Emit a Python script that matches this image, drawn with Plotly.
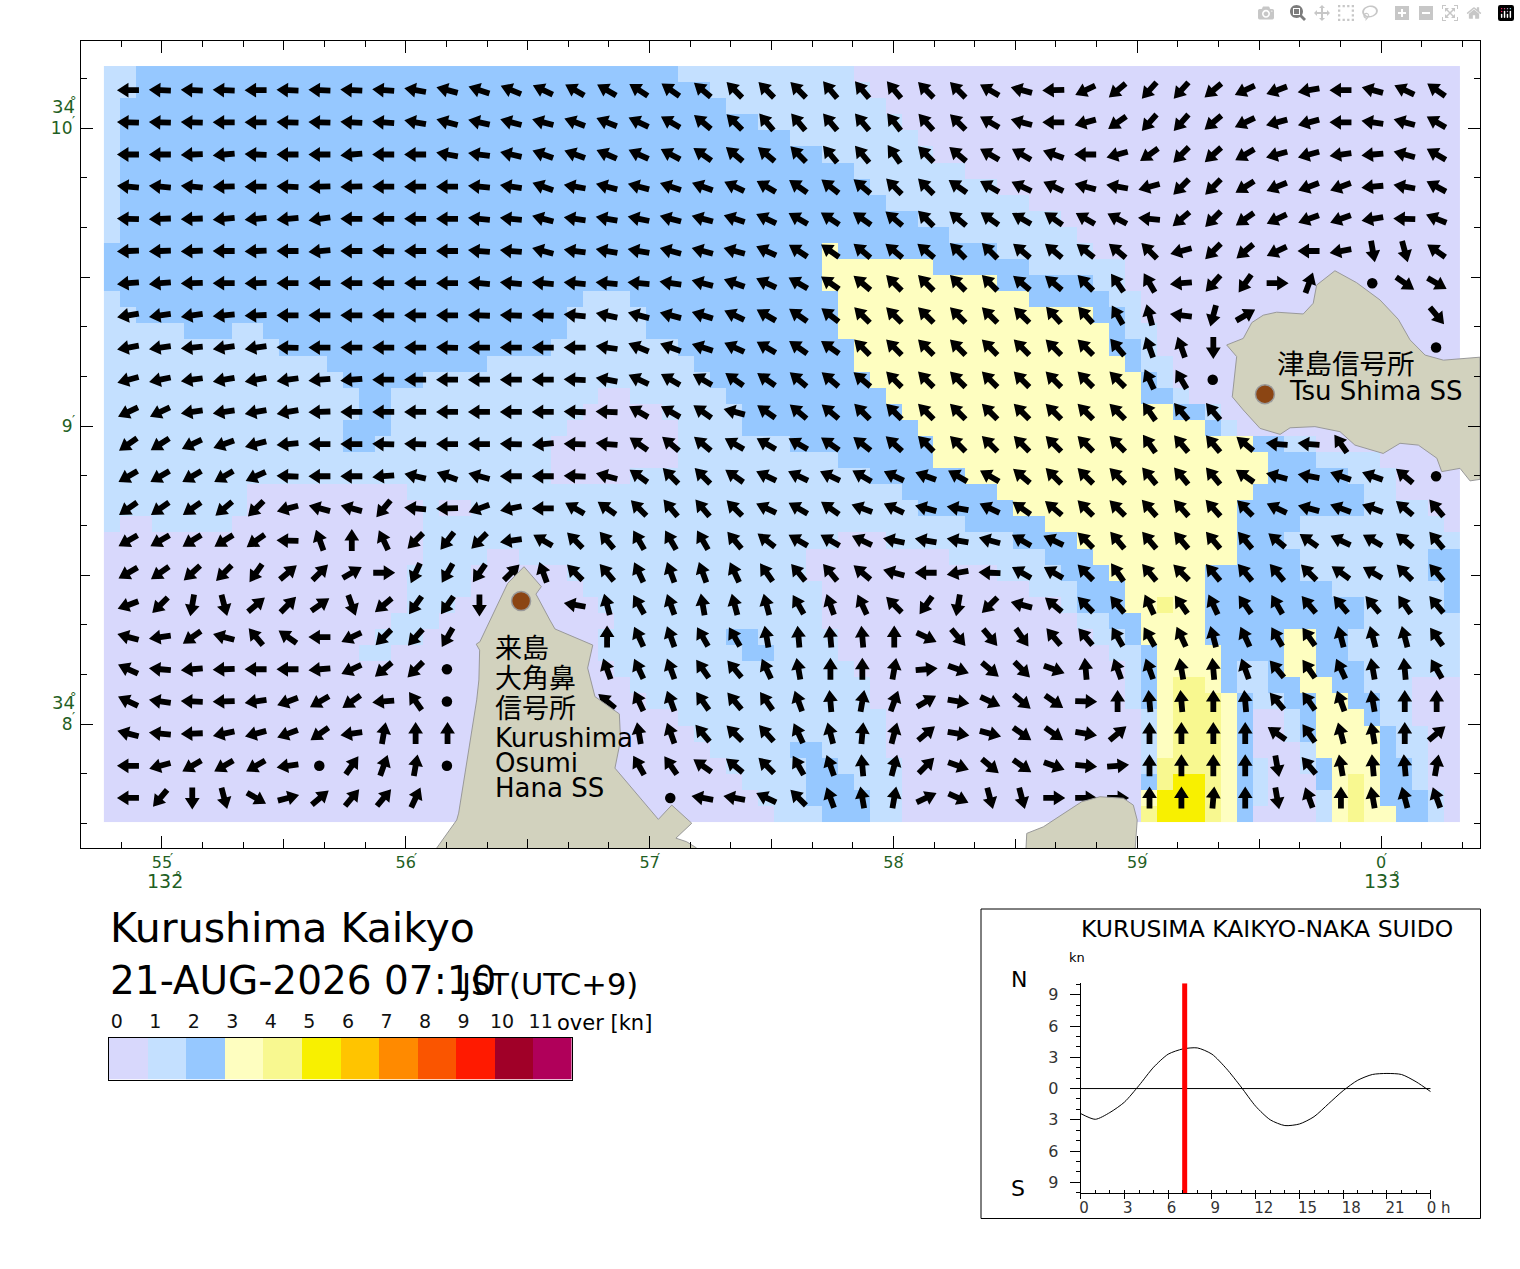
import math
import plotly.graph_objects as go

W, H = 1520, 1269
FONT = "DejaVu Sans, Noto Sans CJK JP"
CJK = "Noto Sans CJK JP"
GREEN = "#1f5f24"

level_colors = ["#d8d8fc", "#c4e0ff", "#96c8ff", "#fefec0", "#f8f890", "#f8f000",
                "#ffc400", "#ff8a00", "#fa5500", "#ff1a00", "#a00028", "#b0005a"]
level_labels = ["0", "1", "2", "3", "4", "5", "6", "7", "8", "9", "10", "11"]

# speed classes, run-length coded as class x count, north to south
speed_rows = [
 "1x2 2x34 1x11 0x38", "1x2 2x36 1x10 0x37", "1x1 2x38 1x10 0x36", "1x1 2x40 1x9 0x35",
 "1x1 2x42 1x8 0x34", "1x1 2x44 1x7 0x33", "1x1 2x46 1x7 0x31", "1x1 2x47 1x8 0x29",
 "1x1 2x48 1x9 0x27", "1x1 2x50 1x9 0x25", "1x1 2x52 1x8 0x24", "2x45 3x1 2x10 1x6 0x23",
 "2x45 3x7 2x6 1x6 0x21", "2x45 3x11 2x6 1x2 0x21", "1x1 2x29 1x3 2x13 3x12 2x5 1x2 0x20",
 "1x2 2x27 1x5 2x12 3x16 2x2 1x1 0x20", "1x5 2x3 1x2 2x19 1x5 2x12 3x17 2x1 1x2 0x19",
 "1x11 2x17 1x8 2x11 3x16 2x2 1x1 0x19", "1x14 2x10 1x13 2x10 3x17 2x1 1x2 0x18",
 "1x15 2x5 1x18 2x10 3x17 2x1 1x1 0x18", "1x16 2x2 1x13 0x2 1x6 2x10 3x16 2x2 1x1 0x17",
 "1x16 2x2 1x12 0x5 1x5 2x10 3x17 2x2 1x1 0x15", "1x15 2x3 1x11 0x7 1x4 2x11 3x18 2x1 1x1 0x14",
 "1x15 2x2 1x11 0x8 1x7 2x9 3x20 2x2 1x2 0x9", "1x28 0x8 1x10 2x6 3x21 2x3 1x4 0x5",
 "1x28 0x5 1x15 2x6 3x19 2x5 1x3 0x4", "1x9 0x10 1x31 2x6 3x16 2x7 1x2 0x4",
 "1x9 0x11 1x1 0x2 1x28 2x6 3x14 2x8 1x4 0x2", "1x1 0x2 1x5 0x12 1x34 2x5 3x12 2x4 1x9 0x1",
 "0x20 1x26 0x3 1x8 2x4 3x10 2x3 1x11", "0x20 1x4 0x2 1x18 0x9 1x6 2x3 3x9 2x4 1x8 2x2",
 "0x19 1x4 0x6 1x15 0x12 1x4 2x3 3x6 2x6 1x8 2x2", "0x19 1x4 0x7 1x15 0x13 1x3 2x3 3x5 2x8 1x7 2x1",
 "0x19 1x3 0x9 1x14 0x15 1x1 2x3 3x2 4x1 3x2 2x10 1x5 2x1", "0x18 1x3 0x11 1x13 0x16 1x2 2x2 3x4 2x10 1x6",
 "0x17 1x3 0x11 1x8 2x2 1x5 0x16 1x2 2x1 3x4 2x5 3x2 2x2 1x7",
 "0x16 1x2 0x13 1x9 2x2 1x4 0x17 1x2 2x1 3x4 2x4 3x2 2x2 1x7",
 "0x32 1x15 0x17 1x1 2x1 3x4 2x1 1x2 2x1 3x2 2x3 1x6",
 "0x33 1x15 0x16 1x1 2x1 3x1 4x2 3x1 2x1 1x2 2x2 3x2 2x2 1x3 0x3",
 "0x34 1x14 0x16 1x1 2x1 3x1 4x3 3x1 2x1 1x2 2x2 3x2 2x2 1x2 0x3",
 "0x36 1x13 0x16 1x1 3x1 4x3 3x1 2x1 0x2 1x1 2x1 3x3 2x1 1x2 0x3",
 "0x37 1x12 0x16 1x1 3x1 4x3 3x1 2x1 0x2 1x1 2x1 3x4 2x1 1x2 0x2",
 "0x38 1x5 2x2 1x4 0x16 1x1 3x1 4x3 3x1 2x1 0x3 1x1 3x4 2x1 1x2 0x2",
 "0x39 1x5 2x2 1x4 0x15 1x1 4x4 3x1 2x1 1x1 0x2 1x1 2x1 3x3 2x2 1x1 0x2",
 "0x40 1x4 2x3 1x3 0x15 2x1 4x1 5x2 4x1 3x1 2x1 1x1 0x3 2x1 3x1 4x1 3x1 2x2 1x1 0x2",
 "0x41 1x3 2x4 1x2 0x15 3x1 5x3 4x1 3x1 2x1 1x1 0x3 1x1 3x1 4x1 3x1 2x3 1x1 0x1",
 "0x42 1x3 2x3 1x2 0x15 4x1 5x3 4x1 3x1 2x1 0x4 1x1 3x1 4x1 3x2 2x2 1x1 0x1",
]

N, D = None, -1  # N: no arrow, D: slack water dot
# current direction of each arrow, degrees clockwise from north, north to south
bearing_rows = [
 [270,272,272,272,270,272,272,273,274,280,285,288,292,295,300,300,303,305,310,315,315,315,320,320,320,315,315,300,285,268,245,230,222,222,230,245,250,260,270,285,295,305],
 [272,272,272,270,270,272,272,273,274,280,285,283,285,285,290,292,295,300,310,315,320,320,320,320,322,318,315,300,285,270,255,235,222,222,230,245,255,255,270,278,285,300],
 [270,270,268,265,272,270,270,265,270,270,280,278,283,290,290,293,295,298,305,310,310,315,320,320,325,315,310,300,300,290,270,255,235,225,228,240,255,255,262,265,285,300],
 [275,275,275,268,270,272,268,268,270,270,270,275,278,290,280,285,285,288,290,295,300,305,308,310,315,315,305,300,295,295,285,280,255,225,225,238,248,250,250,265,280,298],
 [272,268,268,265,265,265,262,270,270,270,270,275,275,285,278,280,282,285,285,288,295,300,303,305,310,315,310,305,300,305,300,298,275,230,225,235,245,250,250,260,272,292],
 [268,268,268,270,268,270,265,270,272,270,270,275,275,285,278,280,280,285,285,285,295,303,305,310,310,310,315,315,310,310,308,310,315,255,225,230,245,270,260,170,165,305],
 [265,265,268,270,268,270,270,270,270,270,270,275,275,275,275,275,275,278,285,290,295,300,305,310,315,315,315,315,310,310,315,325,330,265,222,215,90,20,N,D,125,120],
 [260,262,262,265,268,270,270,270,270,270,270,272,272,272,275,282,285,285,287,295,300,305,308,315,315,315,315,315,315,318,318,330,345,277,195,60,N,N,N,N,N,140],
 [260,262,265,262,262,272,270,270,270,270,272,270,270,270,270,278,292,290,288,295,300,305,305,315,315,315,315,315,315,315,315,320,340,340,180,N,N,N,N,N,N,D],
 [255,258,262,260,260,262,265,265,270,270,270,270,270,270,272,280,295,300,300,305,305,310,310,310,315,315,315,315,315,315,315,315,335,330,D,N,N,N,N,N,N,N],
 [245,245,262,262,260,260,268,270,270,270,270,270,270,270,272,272,300,300,305,285,305,310,310,315,315,315,315,315,315,315,315,315,325,320,320,N,N,N,N,N,N,N],
 [235,237,245,250,255,265,270,270,272,272,270,270,272,265,272,275,305,310,310,300,300,300,305,308,312,315,315,315,315,315,315,315,325,320,320,310,275,275,325,N,N,N],
 [240,240,240,240,245,272,270,270,265,283,290,285,270,270,272,285,305,315,315,305,295,295,295,300,295,290,300,300,310,315,315,315,320,320,320,305,285,280,290,290,310,D],
 [235,235,235,230,225,255,285,285,220,275,268,250,258,270,300,305,315,320,320,315,295,300,305,290,295,285,280,295,305,310,315,315,318,318,318,315,295,285,290,290,310,320],
 [240,240,238,238,235,272,340,0,335,225,218,225,262,300,315,320,330,330,330,320,308,300,300,295,282,280,280,285,300,295,315,320,320,320,320,320,310,305,295,300,310,320],
 [240,235,228,225,215,50,45,60,90,205,210,215,45,340,315,320,335,340,340,335,325,320,320,310,285,270,260,272,300,300,315,325,320,315,320,320,320,315,305,300,315,320],
 [250,225,190,165,50,45,55,160,230,215,215,180,N,N,280,345,330,340,350,345,345,330,340,335,315,215,190,225,285,310,315,320,335,325,335,325,330,320,320,320,325,320],
 [285,262,235,285,320,305,270,245,225,222,210,N,N,N,N,0,335,340,330,330,350,355,355,355,0,115,140,140,145,320,320,330,330,335,345,335,330,325,345,345,345,325],
 [295,275,265,268,270,270,265,245,230,225,D,N,N,N,N,340,335,340,325,320,335,350,0,0,10,85,110,130,135,110,355,340,340,350,355,340,320,325,335,350,355,330],
 [295,278,272,268,262,250,240,235,265,325,D,N,N,N,N,310,335,340,325,320,325,340,355,10,20,60,100,115,130,125,92,0,355,355,0,355,320,325,340,350,0,0],
 [285,275,268,258,255,250,235,262,10,0,0,N,N,N,N,N,350,340,320,315,318,335,345,5,15,50,100,105,125,125,100,50,0,0,0,0,305,325,345,350,0,50],
 [270,255,240,240,240,262,D,35,20,10,D,N,N,N,N,N,330,325,305,310,315,330,340,355,15,45,110,130,125,110,95,85,0,0,0,0,170,320,350,355,355,10],
 [270,220,180,165,120,75,50,40,40,25,N,N,N,N,N,N,N,D,280,280,295,315,340,350,10,65,115,165,165,90,90,90,0,0,5,0,170,340,0,350,345,340],
]

# land outlines: longitude minutes past 132 deg, latitude minutes past 34 deg
kurushima_lon = [56.127,56.209,56.217,56.291,56.300,56.303,56.289,56.304,56.418,56.485,56.556,56.534,56.591,56.612,56.767,56.746,56.776,56.876,56.881,56.858,57.036,57.091,57.173,57.108,57.152,57.193]
kurushima_lat = [7.584,7.678,7.701,8.081,8.148,8.248,8.268,8.276,8.472,8.528,8.461,8.436,8.349,8.319,8.265,8.188,8.092,8.034,7.946,7.852,7.680,7.728,7.667,7.617,7.605,7.584]
south_lon = [58.544,58.547,58.615,58.704,58.772,58.847,58.943,58.984,59.000,58.992]
south_lat = [7.584,7.633,7.655,7.702,7.739,7.756,7.751,7.728,7.678,7.584]
tsushima_lon = [59.367,59.435,59.470,59.517,59.572,59.681,59.722,59.736,59.811,59.900,59.996,60.071,60.119,60.181,60.256,60.406,60.406,60.365,60.324,60.249,60.229,60.153,60.078,60.009,59.893,59.832,59.729,59.627,59.586,59.504,59.435,59.390,59.408,59.367]
tsushima_lat = [9.272,9.294,9.347,9.372,9.382,9.376,9.412,9.473,9.521,9.481,9.423,9.358,9.289,9.238,9.221,9.231,8.821,8.816,8.858,8.847,8.892,8.936,8.942,8.908,8.936,8.981,8.998,8.994,8.972,8.992,9.054,9.098,9.233,9.272]

station_lon = [56.473, 59.524]
station_lat = [8.413, 9.107]

tide_hours = list(range(25))
tide_knots = [-2.4,-2.95,-2.3,-1.3,0.3,2.05,3.3,3.8,3.9,3.3,1.9,0.15,-1.7,-3.0,-3.55,-3.4,-2.7,-1.45,-0.2,0.8,1.35,1.45,1.35,0.65,-0.3]
now_hour = 7.13

# geometry of the grid on the chart
LON0, DLON = 54.762, 0.065435
LAT0, DLAT = 10.208, 0.053979
PX_LON, PX_LAT = 243.8, 298.0
XR = [54.668, 60.406]
YR = [7.584, 10.292]

grid = []
for row in speed_rows:
    cells = []
    for run in row.split():
        v, n = run.split("x")
        cells += [int(v)] * int(n)
    grid.append(cells)
cell_lon = [LON0 + DLON * (i + 0.5) for i in range(85)]
cell_lat = [LAT0 - DLAT * (j + 0.5) for j in range(47)]

steps = []
for i, c in enumerate(level_colors):
    steps += [[i / 12, c], [(i + 1) / 12, c]]

fig = go.Figure()
fig.add_trace(go.Heatmap(x=cell_lon, y=cell_lat, z=grid, colorscale=steps, zmin=-0.5, zmax=11.5,
                         showscale=False, hoverinfo="skip", xaxis="x", yaxis="y"))

SHAPE = [(11.5, 0), (0, 7.4), (0, 2.9), (-10.5, 2.9), (-10.5, -2.9), (0, -2.9), (0, -7.4)]
ax, ay, dx, dy = [], [], [], []
for j, row in enumerate(bearing_rows):
    la = cell_lat[2 * j + 1]
    for i, b in enumerate(row):
        lo = cell_lon[2 * i + 1]
        if b is None:
            continue
        if b == D:
            dx.append(lo)
            dy.append(la)
            continue
        t = math.radians(b)
        ux, uy = math.sin(t), math.cos(t)
        for a, s in SHAPE + SHAPE[:1]:
            ax.append(lo + (a * ux + s * uy + 0.6) / PX_LON)
            ay.append(la + (a * uy - s * ux) / PX_LAT)
        ax.append(None)
        ay.append(None)
fig.add_trace(go.Scatter(x=ax, y=ay, mode="lines", fill="toself", fillcolor="#000000",
                         line=dict(width=0, color="#000000"), hoverinfo="skip", showlegend=False))
fig.add_trace(go.Scatter(x=dx, y=dy, mode="markers", marker=dict(size=10.5, color="#000000"),
                         hoverinfo="skip", showlegend=False))

for lons, lats in [(kurushima_lon, kurushima_lat), (south_lon, south_lat), (tsushima_lon, tsushima_lat)]:
    fig.add_trace(go.Scatter(x=lons, y=lats, mode="lines", fill="toself", fillcolor="#d2d2be",
                             line=dict(width=1, color="#999999"), hoverinfo="skip", showlegend=False))
fig.add_trace(go.Scatter(x=station_lon, y=station_lat, mode="markers",
                         marker=dict(size=19, color="#8b4513", line=dict(width=1.5, color="#999999")),
                         hoverinfo="skip", showlegend=False))

lon_major = [55, 56, 57, 58, 59, 60]
lon_major_text = ["55", "56", "57", "58", "59", "0"]
lat_major = [8, 9, 10]
lat_major_text = ["8", "9", "10"]
lon_half = [54.5 + i for i in range(1, 7)]
lat_half = [7.5 + i for i in range(1, 4)]
lon_minor = [55 + i / 6 for i in range(-1, 33)]
lat_minor = [7 + i / 6 for i in range(4, 20)]

frame = dict(showline=True, linecolor="#000000", linewidth=1.2, mirror="allticks", showgrid=False,
             zeroline=False, ticks="inside", tickcolor="#000000", tickwidth=1)
fig.update_layout(
    width=W, height=H, margin=dict(l=0, r=0, t=0, b=0, autoexpand=False), paper_bgcolor="white", plot_bgcolor="white",
    showlegend=False, font=dict(family=FONT, color="#000000"),
    xaxis=dict(domain=[81 / W, 1480 / W], range=XR, tickmode="array", tickvals=lon_major, ticktext=lon_major_text,
               ticklen=12, tickfont=dict(size=16, color=GREEN), ticklabelstandoff=0,
               minor=dict(tickmode="array", tickvals=lon_minor, ticks="inside", ticklen=6, tickcolor="#000000", tickwidth=1),
               **frame),
    yaxis=dict(domain=[1 - 848 / H, 1 - 41 / H], range=YR, tickmode="array", tickvals=lat_major, ticktext=lat_major_text,
               ticklen=12, tickfont=dict(size=17, color=GREEN), ticklabelstandoff=4,
               minor=dict(tickmode="array", tickvals=lat_minor, ticks="inside", ticklen=6, tickcolor="#000000", tickwidth=1),
               **frame),
    xaxis2=dict(overlaying="x", matches="x", anchor="y2", tickmode="array", tickvals=lon_half, ticklen=9, showticklabels=False,
                **frame),
    yaxis2=dict(overlaying="y", matches="y", anchor="x2", tickmode="array", tickvals=lat_half, ticklen=9, showticklabels=False,
                **frame),
)
fig.add_trace(go.Scatter(x=lon_half[:3], y=lat_half, mode="markers", marker=dict(opacity=0), xaxis="x2", yaxis="y2",
                         hoverinfo="skip", showlegend=False))

# colour key
fig.add_trace(go.Heatmap(x=[i + 0.5 for i in range(12)], y=[0], z=[list(range(12))], colorscale=steps, zmin=-0.5, zmax=11.5,
                         showscale=False, hoverinfo="skip", xaxis="x3", yaxis="y3"))
fig.update_layout(
    xaxis3=dict(domain=[109 / W, 571.5 / W], range=[0, 12], anchor="y3", side="top", tickmode="array",
                tickvals=[i + 0.2 for i in range(12)], ticktext=level_labels, ticks="", showgrid=False, zeroline=False,
                showline=True, mirror=True, linecolor="#000000", linewidth=1, tickfont=dict(size=19, color="#111111"),
                ticklabelstandoff=1),
    yaxis3=dict(domain=[1 - 1079.5 / H, 1 - 1037.5 / H], range=[-0.5, 0.5], anchor="x3", showticklabels=False, ticks="",
                showgrid=False, zeroline=False, showline=True, mirror=True, linecolor="#000000", linewidth=1),
)

# tide panel
fig.add_trace(go.Scatter(x=[0, 24], y=[0, 0], mode="lines", line=dict(color="#000000", width=1), xaxis="x4", yaxis="y4",
                         hoverinfo="skip", showlegend=False))
fig.add_trace(go.Scatter(x=tide_hours, y=tide_knots, mode="lines", line=dict(color="#000000", width=1, shape="spline", smoothing=0.7),
                         xaxis="x4", yaxis="y4", hoverinfo="skip", showlegend=False))
fig.add_trace(go.Scatter(x=[now_hour, now_hour], y=[-10.05, 10.1], mode="lines", line=dict(color="#ff0000", width=5),
                         xaxis="x4", yaxis="y4", hoverinfo="skip", showlegend=False))
nb = "\u00a0\u00a0"
fig.update_layout(
    xaxis4=dict(domain=[1080.7 / W, 1430.7 / W], range=[0, 24], anchor="y4", tickmode="array",
                tickvals=[0, 3, 6, 9, 12, 15, 18, 21, 24],
                ticktext=["0" + nb, "3" + nb, "6" + nb, "9" + nb, "12", "15", "18", "21", "0 h"],
                ticks="outside", ticklen=5, tickcolor="#000000", showline=True, linecolor="#000000", linewidth=1,
                showgrid=False, zeroline=False, tickfont=dict(size=15, color="#333333"), ticklabelshift=8, ticklabelstandoff=-4,
                minor=dict(tickmode="array", tickvals=list(range(25)), ticks="inside", ticklen=3, tickcolor="#000000")),
    yaxis4=dict(domain=[1 - 1193.3 / H, 1 - 983.3 / H], range=[-10.05, 10.1], anchor="x4", tickmode="array",
                tickvals=[-9, -6, -3, 0, 3, 6, 9], ticktext=["9", "6", "3", "0", "3", "6", "9"],
                ticks="outside", ticklen=10, tickcolor="#000000", showline=True, linecolor="#000000", linewidth=1,
                showgrid=False, zeroline=False, tickfont=dict(size=16, color="#333333"), ticklabelstandoff=8,
                minor=dict(tickmode="array", tickvals=[v for v in range(-10, 11)], ticks="outside", ticklen=4, tickcolor="#000000")),
    shapes=[dict(type="rect", xref="paper", yref="paper", x0=981 / W, x1=1480.5 / W, y0=1 - 1218.5 / H, y1=1 - 909 / H,
                 line=dict(color="#000000", width=1))],
)


def label(text, x, y, size, color="#000000", anchor="left", family=FONT):
    fig.add_annotation(text=text, xref="paper", yref="paper", x=x / W, y=1 - y / H, xanchor=anchor, yanchor="middle",
                       showarrow=False, font=dict(size=size, color=color, family=family), borderpad=0, borderwidth=0)


label("Kurushima Kaikyo", 110, 928, 41)
label("21-AUG-2026 07:10", 110, 980, 39)
label("JST(UTC+9)", 460, 984, 30.5)
label("over [kn]", 557, 1023, 21)
label("KURUSIMA KAIKYO-NAKA SUIDO", 1081, 929, 23.5)
label("kn", 1069, 957, 13)
label("N", 1011, 979, 22)
label("S", 1011, 1188, 22)
label("来島", 495, 646, 27, family=CJK)
label("大角鼻", 495, 676, 27, family=CJK)
label("信号所", 495, 706, 27, family=CJK)
label("Kurushima", 495, 738, 26)
label("Osumi", 495, 763, 26)
label("Hana SS", 495, 788, 26)
label("津島信号所", 1277, 362, 27.5, family=CJK)
label("Tsu Shima SS", 1289, 391, 26)
label("132", 165, 881, 19, GREEN, "center")
label("133", 1382, 881, 19, GREEN, "center")
label("34", 75, 106, 18, GREEN, "right")
label("34", 75, 702, 18, GREEN, "right")
for px in [171, 415, 658, 902, 1146, 1385]:
    label("′", px, 858, 14, GREEN, "center")
for px, py, t in [(178, 875, "°"), (1396, 875, "°"), (73, 100, "°"), (73, 696, "°")]:
    label(t, px, py, 13, GREEN, "center")
for py in [121, 420, 717]:
    label("′", 73, py, 14, GREEN, "center")

fig.write_html("out.html", post_script="document.body.style.margin='0';")
